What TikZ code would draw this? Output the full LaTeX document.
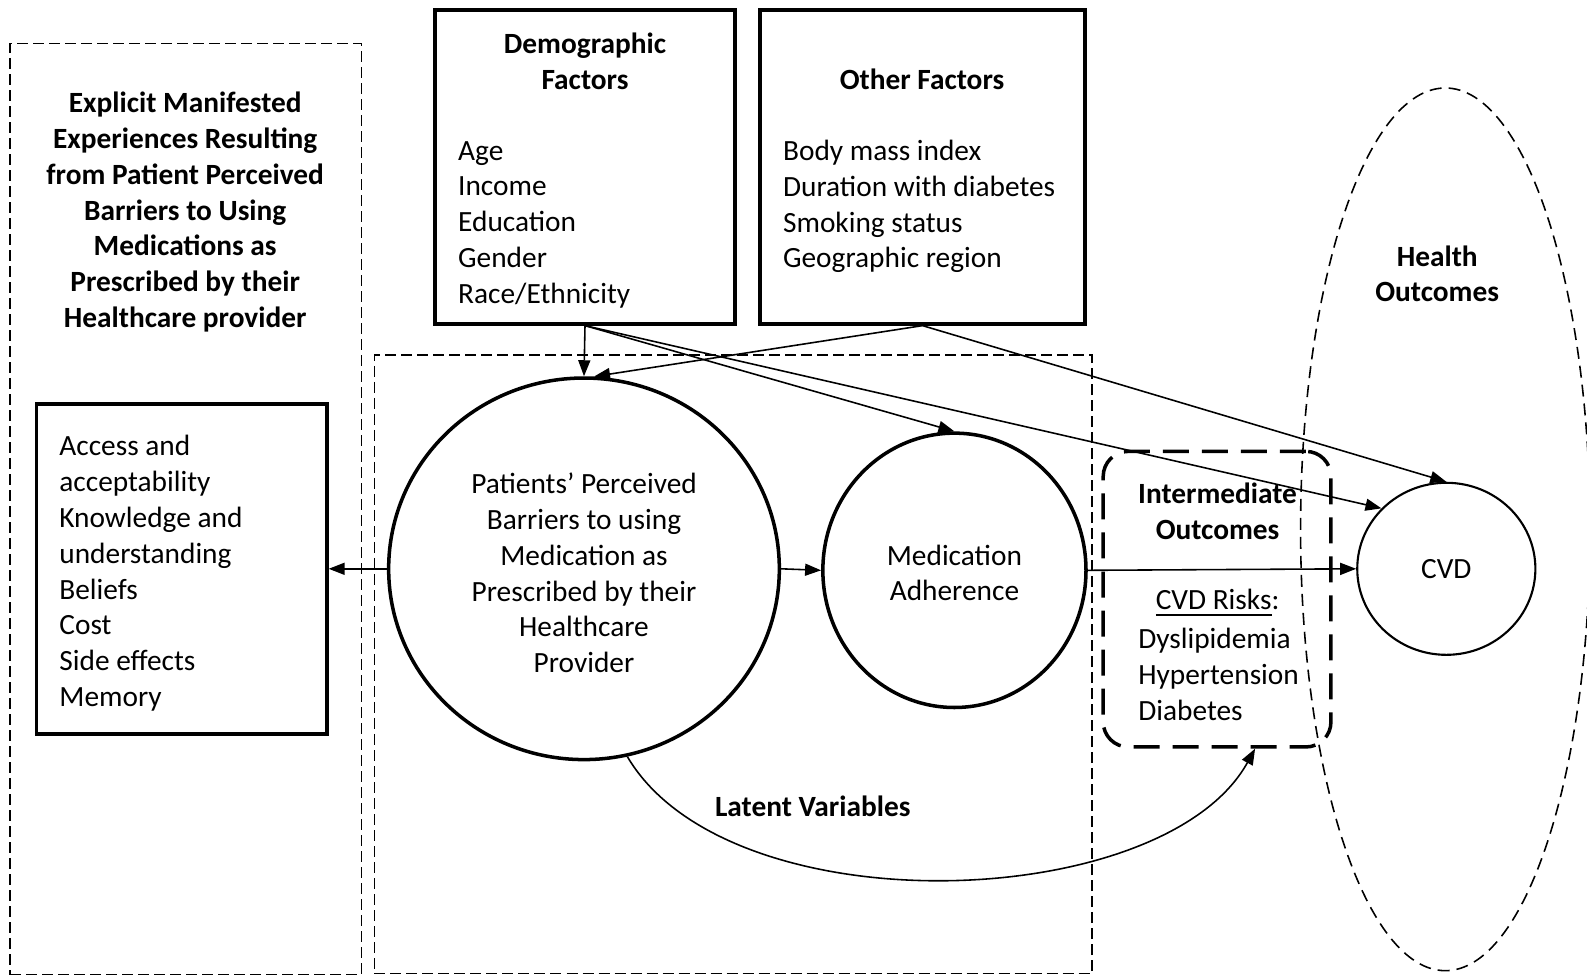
\documentclass[tikz,border=0pt]{standalone}
\usepackage{fontspec}
\setmainfont{Carlito}
\usetikzlibrary{shapes.geometric,arrows.meta}
\tikzset{
  txt/.style={inner sep=0pt,font=\fontsize{8.35}{10.2}\selectfont,align=left},
  hdr/.style={inner sep=0pt,font=\fontsize{8.35}{10.2}\selectfont\bfseries,align=center},
  solidbox/.style={draw,line width=1pt,inner sep=0pt},
  thindash/.style={draw,line width=0.45pt,dash pattern=on 1.1mm off 0.5mm,inner sep=0pt},
  oval/.style={draw,ellipse,inner sep=0pt,font=\fontsize{8.35}{10.2}\selectfont,align=center},
  arr/.style={line width=0.45pt,-{Triangle[length=1.6mm,width=1.2mm]}}
}

\begin{document}
\begin{tikzpicture}[x=0.1012mm,y=-0.1012mm]
            \useasboundingbox (0,0) rectangle (1568,965);
            \node[thindash,minimum width=35.12mm,minimum height=93.10mm] (expl) at (183.5,503) {};
            \node[thindash,minimum width=71.75mm,minimum height=61.83mm] (latent) at (724.5,656.5) {};
            \node[oval,line width=0.45pt,dash pattern=on 1.2mm off 0.7mm,minimum width=28.94mm,minimum height=88.25mm] (health) at (1428,523) {};
            \node[draw,rounded corners=2.5mm,line width=1pt,dash pattern=on 2.6mm off 1.3mm,inner sep=0pt,minimum width=22.77mm,minimum height=29.55mm] (inter) at (1202.5,592) {};
            \node[solidbox,minimum width=29.04mm,minimum height=32.99mm] (barrlist) at (179.5,562) {};
            \node[solidbox,minimum width=29.96mm,minimum height=31.37mm] (demo) at (578,165) {};
            \node[solidbox,minimum width=32.49mm,minimum height=31.37mm] (other) at (911.5,165) {};
            \node[oval,line width=1pt,minimum width=39.06mm,minimum height=38.15mm] (barrier) at (577,562) {};
            \node[oval,line width=1pt,minimum width=26.31mm,minimum height=27.43mm] (adher) at (943,563.5) {};
            \node[oval,line width=0.6pt,minimum width=17.81mm,minimum height=17.2mm] (cvd) at (1429,562) {CVD};
            \node[txt,align=center] (barriertext) at (577,566) {Patients’ Perceived\\Barriers to using\\Medication as\\Prescribed by their\\Healthcare\\Provider};
            \node[txt,align=center] (adhertext) at (943,566) {Medication\\Adherence};
            \node[hdr] (expltitle) at (183,209.5) {Explicit Manifested\\Experiences Resulting\\from Patient Perceived\\Barriers to Using\\Medications as\\Prescribed by their\\Healthcare provider};
            \node[txt,anchor=west] (explitems) at (58,566.5) {Access and\\acceptability\\Knowledge and\\understanding\\Beliefs\\Cost\\Side effects\\Memory};
            \node[hdr] (demotitle) at (578,60.5) {Demographic\\Factors};
            \node[txt,anchor=west] (demoitems) at (452,222) {Age\\Income\\Education\\Gender\\Race/Ethnicity};
            \node[hdr] (othertitle) at (911,78) {Other Factors};
            \node[txt,anchor=west] (otheritems) at (773,204) {Body mass index\\Duration with diabetes\\Smoking status\\Geographic region};
            \node[hdr] (intertitle) at (1203,505.5) {Intermediate\\Outcomes};
            \node[txt] (risks) at (1203,596) {\underline{CVD Risks}:};
            \node[txt,anchor=west] (riskitems) at (1124,666) {Dyslipidemia\\Hypertension\\Diabetes};
            \node[hdr] (healthtitle) at (1420,270.5) {Health\\Outcomes};
            \node[hdr] (latenttitle) at (803,797) {Latent Variables};
            \draw[arr] (demo.south) -- (barrier.north);
            \draw[arr] (other.south) -- (barrier.87);
            \draw[arr] (demo.south) -- (adher.north);
            \draw[arr] (demo.south) -- (cvd.137);
            \draw[arr] (other.south) -- (cvd.north);
            \draw[arr] (barrier.west) -- (barrlist.east);
            \draw[arr] (barrier.east) -- (adher.west);
            \draw[arr] (adher.east) -- (cvd.west);
            \draw[arr] (barrier.-77) .. controls +(100,170) and +(-90,163) .. ([xshift=3.8mm]inter.south);
        \end{tikzpicture}
\end{document}
